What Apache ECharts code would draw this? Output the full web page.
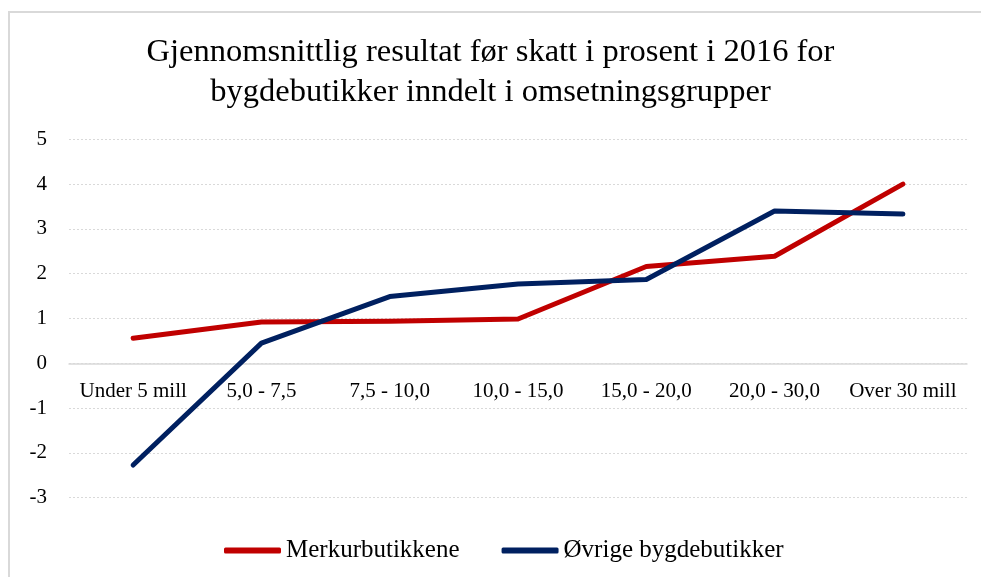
<!DOCTYPE html>
<html><head><meta charset="utf-8">
<script src="https://cdn.jsdelivr.net/npm/echarts@6/dist/echarts.min.js"></script>
<style>html,body{margin:0;padding:0;background:#fff}#c{width:981px;height:577px}</style>
</head><body><div id="c"></div>
<script>
const categories = ['Under 5 mill', '5,0 - 7,5', '7,5 - 10,0', '10,0 - 15,0', '15,0 - 20,0', '20,0 - 30,0', 'Over 30 mill'];
const merkur = [0.56, 0.92, 0.94, 0.99, 2.16, 2.39, 4.0];
const ovrige = [-2.27, 0.45, 1.49, 1.77, 1.87, 3.40, 3.33];
const seriesNames = ['Merkurbutikkene', 'Øvrige bygdebutikker'];
const titleLines = ['Gjennomsnittlig resultat før skatt i prosent i 2016 for', 'bygdebutikker inndelt i omsetningsgrupper'];

const FONT = 'Liberation Serif';
const chart = echarts.init(document.getElementById('c'));
chart.setOption({
  animation: false,
  backgroundColor: '#fff',
  graphic: [{
    type: 'rect', shape: {x: 9, y: 12, width: 1000, height: 600},
    style: {fill: 'none', stroke: '#d9d9d9', lineWidth: 2}, silent: true
  }],
  title: {
    text: titleLines.join('\n'),
    left: 'center', top: 27,
    textStyle: {fontFamily: FONT, fontSize: 32.5, fontWeight: 'normal', color: '#000', lineHeight: 40}
  },
  grid: {left: 69, right: 14, top: 139.3, bottom: 79.3, containLabel: false},
  legend: {
    top: 533, left: 219, itemGap: 42, itemWidth: 57, itemHeight: 6,
    icon: 'roundRect',
    textStyle: {fontFamily: FONT, fontSize: 25, color: '#000', lineHeight: 25},
    data: seriesNames
  },
  xAxis: {
    type: 'category', data: categories, boundaryGap: true,
    axisLine: {onZero: true, lineStyle: {color: '#d9d9d9', width: 1.5}},
    axisTick: {show: false},
    axisLabel: {fontFamily: FONT, fontSize: 21, color: '#000', margin: -117, interval: 0, verticalAlign: 'top'}
  },
  yAxis: {
    type: 'value', min: -3, max: 5, interval: 1,
    axisLine: {show: false}, axisTick: {show: false},
    axisLabel: {fontFamily: FONT, fontSize: 21, color: '#000', margin: 22},
    splitLine: {lineStyle: {color: '#d9d9d9', type: [2, 2], width: 1}}
  },
  series: [
    {name: seriesNames[0], type: 'line', data: merkur, symbol: 'none',
     lineStyle: {color: '#c00000', width: 5, cap: 'round', join: 'round'}, itemStyle: {color: '#c00000'}},
    {name: seriesNames[1], type: 'line', data: ovrige, symbol: 'none',
     lineStyle: {color: '#002060', width: 5, cap: 'round', join: 'round'}, itemStyle: {color: '#002060'}}
  ]
});
</script></body></html>
